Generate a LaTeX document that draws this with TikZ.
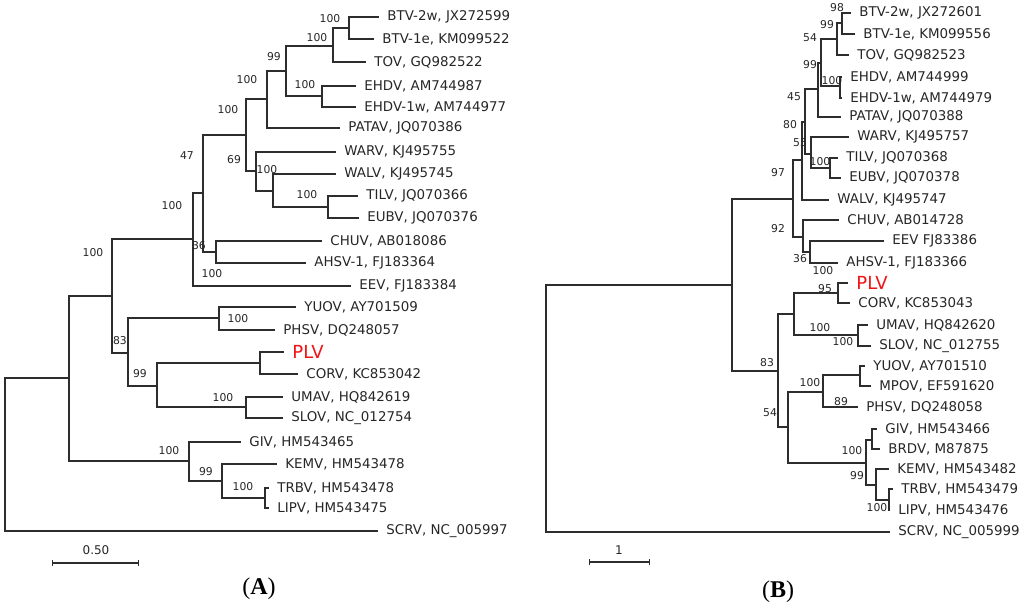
\documentclass[tikz,border=0pt]{standalone}
\usepackage{fontspec}
\usepackage{xcolor}
\usetikzlibrary{arrows.meta}
\newfontfamily\treefont{DejaVu Sans}
\newfontfamily\capfont{Liberation Serif}
\definecolor{plvred}{RGB}{240,20,20}
\definecolor{branchgray}{RGB}{45,45,45}

\begin{document}
\begin{tikzpicture}
  [x=0.5pt,y=-0.5pt,
   branch/.style={draw=branchgray,line width=0.6pt},
   leaf/.style={anchor=west,inner xsep=4pt,inner ysep=0pt,text=black!85,font=\treefont\fontsize{6.7}{7}\selectfont},
   plv/.style={leaf,text=plvred,font=\treefont\fontsize{9}{9}\selectfont},
   boot/.style={inner sep=0pt,text=black!85,font=\treefont\fontsize{5.4}{6}\selectfont},
   barlabel/.style={boot,font=\treefont\fontsize{6}{6}\selectfont},
   panel/.style={inner sep=0pt,font=\capfont\fontsize{12}{14}\selectfont}]
  \useasboundingbox (0,0) rectangle (1024,607);

  % (A) inner nodes
  \coordinate (a1) at (349,28);
  \coordinate (a2) at (333,46);
  \coordinate (a3) at (322,96);
  \coordinate (a4) at (286,71);
  \coordinate (a5) at (267,99);
  \coordinate (a6) at (328,207);
  \coordinate (a7) at (273,191);
  \coordinate (a8) at (256,171);
  \coordinate (a9) at (246,135);
  \coordinate (a10) at (216,252);
  \coordinate (a11) at (203,193);
  \coordinate (a12) at (193,239);
  \coordinate (a13) at (112,296);
  \coordinate (a14) at (219,318);
  \coordinate (a15) at (260,363);
  \coordinate (a16) at (246,407);
  \coordinate (a17) at (157,386);
  \coordinate (a18) at (128,353);
  \coordinate (a19) at (265,498);
  \coordinate (a20) at (222,481);
  \coordinate (a21) at (189,461);
  \coordinate (a22) at (69,378);
  \coordinate (rootA) at (5,455);

  % (A) taxa
  \node[leaf] (BTV2wA) at (379,17) {BTV-2w, JX272599};
  \node[leaf] (BTV1eA) at (374,39) {BTV-1e, KM099522};
  \node[leaf] (TOVA) at (366,62) {TOV, GQ982522};
  \node[leaf] (EHDVA) at (356,86) {EHDV, AM744987};
  \node[leaf] (EHDV1wA) at (356,107) {EHDV-1w, AM744977};
  \node[leaf] (PATAVA) at (340,128) {PATAV, JQ070386};
  \node[leaf] (WARVA) at (336,152) {WARV, KJ495755};
  \node[leaf] (WALVA) at (336,174) {WALV, KJ495745};
  \node[leaf] (TILVA) at (358,196) {TILV, JQ070366};
  \node[leaf] (EUBVA) at (359,218) {EUBV, JQ070376};
  \node[leaf] (CHUVA) at (322,241) {CHUV, AB018086};
  \node[leaf] (AHSVA) at (306,263) {AHSV-1, FJ183364};
  \node[leaf] (EEVA) at (351,286) {EEV, FJ183384};
  \node[leaf] (YUOVA) at (296,307) {YUOV, AY701509};
  \node[leaf] (PHSVA) at (275,330) {PHSV, DQ248057};
  \node[plv] (PLVA) at (284,352) {PLV};
  \node[leaf] (CORVA) at (298,374) {CORV, KC853042};
  \node[leaf] (UMAVA) at (283,397) {UMAV, HQ842619};
  \node[leaf] (SLOVA) at (283,418) {SLOV, NC\_012754};
  \node[leaf] (GIVA) at (241,442) {GIV, HM543465};
  \node[leaf] (KEMVA) at (277,464) {KEMV, HM543478};
  \node[leaf] (TRBVA) at (269,488) {TRBV, HM543478};
  \node[leaf] (LIPVA) at (269,508) {LIPV, HM543475};
  \node[leaf] (SCRVA) at (378,531) {SCRV, NC\_005997};

  \foreach \from/\to in {a2/a1,a4/a2,a4/a3,a5/a4,a9/a5,a7/a6,a8/a7,a9/a8,a11/a9,a11/a10,
      a12/a11,a13/a12,a18/a14,a17/a15,a17/a16,a18/a17,a13/a18,a22/a13,a20/a19,a21/a20,
      a22/a21,rootA/a22}
    \draw[branch] (\from) |- (\to);
  \foreach \from/\to in {a1/BTV2wA,a1/BTV1eA,a2/TOVA,a3/EHDVA,a3/EHDV1wA,a5/PATAVA,
      a8/WARVA,a7/WALVA,a6/TILVA,a6/EUBVA,a10/CHUVA,a10/AHSVA,a12/EEVA,a14/YUOVA,
      a14/PHSVA,a15/PLVA,a15/CORVA,a16/UMAVA,a16/SLOVA,a21/GIVA,a20/KEMVA,a19/TRBVA,
      a19/LIPVA,rootA/SCRVA}
    \draw[branch] (\from) |- (\to.west);

  % (A) bootstrap values
  \foreach \x/\y/\v [count=\i] in {330/19/100,317/38/100,274/57/99,247/80/100,305/85/100,
      228/110/100,187/156/47,234/160/69,267/170/100,307/195/100,172/206/100,199/246/36,
      93/253/100,212/274/100,238/319/100,120/341/83,140/374/99,223/398/100,169/451/100,
      206/472/99,243/487/100}
    \node[boot] (bootA\i) at (\x,\y) {\v};

  % (B) inner nodes
  \coordinate (b1) at (842,23);
  \coordinate (b2) at (837,39);
  \coordinate (b3) at (821,63);
  \coordinate (b4) at (840,86);
  \coordinate (b5) at (818,89);
  \coordinate (b6) at (805,122);
  \coordinate (b7) at (830,168);
  \coordinate (b8) at (811,154);
  \coordinate (b9) at (802,160);
  \coordinate (b10) at (810,252);
  \coordinate (b11) at (803,237);
  \coordinate (b12) at (793,199);
  \coordinate (b13) at (838,293);
  \coordinate (b14) at (858,335);
  \coordinate (b15) at (794,314);
  \coordinate (b16) at (860,375);
  \coordinate (b17) at (823,392);
  \coordinate (b18) at (872,440);
  \coordinate (b19) at (889,500);
  \coordinate (b20) at (876,485);
  \coordinate (b21) at (866,463);
  \coordinate (b22) at (788,427);
  \coordinate (b23) at (778,371);
  \coordinate (b24) at (732,285);
  \coordinate (rootB) at (546,408);

  % (B) taxa
  \node[leaf] (BTV2wB) at (851,13) {BTV-2w, JX272601};
  \node[leaf] (BTV1eB) at (855,34) {BTV-1e, KM099556};
  \node[leaf] (TOVB) at (849,55) {TOV, GQ982523};
  \node[leaf] (EHDVB) at (842,77) {EHDV, AM744999};
  \node[leaf] (EHDV1wB) at (842,98) {EHDV-1w, AM744979};
  \node[leaf] (PATAVB) at (841,117) {PATAV, JQ070388};
  \node[leaf] (WARVB) at (849,137) {WARV, KJ495757};
  \node[leaf] (TILVB) at (838,158) {TILV, JQ070368};
  \node[leaf] (EUBVB) at (841,178) {EUBV, JQ070378};
  \node[leaf] (WALVB) at (829,200) {WALV, KJ495747};
  \node[leaf] (CHUVB) at (839,220) {CHUV, AB014728};
  \node[leaf] (EEVB) at (884,241) {EEV FJ83386};
  \node[leaf] (AHSVB) at (838,263) {AHSV-1, FJ183366};
  \node[plv] (PLVB) at (848,283) {PLV};
  \node[leaf] (CORVB) at (850,303) {CORV, KC853043};
  \node[leaf] (UMAVB) at (868,325) {UMAV, HQ842620};
  \node[leaf] (SLOVB) at (871,346) {SLOV, NC\_012755};
  \node[leaf] (YUOVB) at (865,366) {YUOV, AY701510};
  \node[leaf] (MPOVB) at (871,386) {MPOV, EF591620};
  \node[leaf] (PHSVB) at (858,407) {PHSV, DQ248058};
  \node[leaf] (GIVB) at (877,429) {GIV, HM543466};
  \node[leaf] (BRDVB) at (880,449) {BRDV, M87875};
  \node[leaf] (KEMVB) at (889,469) {KEMV, HM543482};
  \node[leaf] (TRBVB) at (893,489) {TRBV, HM543479};
  \node[leaf] (LIPVB) at (890,510) {LIPV, HM543476};
  \node[leaf] (SCRVB) at (890,532) {SCRV, NC\_005999};

  \foreach \from/\to in {b2/b1,b3/b2,b3/b4,b5/b3,b6/b5,b6/b8,b8/b7,b9/b6,b11/b10,b12/b9,
      b12/b11,b15/b13,b15/b14,b17/b16,b21/b18,b20/b19,b21/b20,b22/b17,b22/b21,b23/b15,
      b23/b22,b24/b12,b24/b23,rootB/b24}
    \draw[branch] (\from) |- (\to);
  \foreach \from/\to in {b1/BTV2wB,b1/BTV1eB,b2/TOVB,b4/EHDVB,b4/EHDV1wB,b5/PATAVB,
      b8/WARVB,b7/TILVB,b7/EUBVB,b9/WALVB,b11/CHUVB,b10/EEVB,b10/AHSVB,b13/PLVB,
      b13/CORVB,b14/UMAVB,b14/SLOVB,b16/YUOVB,b16/MPOVB,b17/PHSVB,b18/GIVB,b18/BRDVB,
      b20/KEMVB,b19/TRBVB,b19/LIPVB,rootB/SCRVB}
    \draw[branch] (\from) |- (\to.west);

  % (B) bootstrap values
  \foreach \x/\y/\v [count=\i] in {837/8/98,827/25/99,810/38/54,810/65/99,832/81/100,
      794/97/45,790/125/80,800/143/55,820/162/100,778/173/97,778/229/92,800/259/36,
      823/271/100,825/289/95,820/328/100,843/342/100,767/363/83,810/383/100,841/402/89,
      770/413/54,852/451/100,857/476/99,877/508/100}
    \node[boot] (bootB\i) at (\x,\y) {\v};

  % scale bars and panel letters
  \coordinate (barA1) at (52,563);
  \coordinate (barA2) at (139,563);
  \draw[branch,{Bar[width=3pt]}-{Bar[width=3pt]}] (barA1) -- (barA2);
  \node[barlabel] (barAlabel) at (96,550) {0.50};
  \coordinate (barB1) at (589,562);
  \coordinate (barB2) at (650,562);
  \draw[branch,{Bar[width=3pt]}-{Bar[width=3pt]}] (barB1) -- (barB2);
  \node[barlabel] (barBlabel) at (619,550) {1};

  \node[panel] (panelA) at (259,589) {(\textbf{A})};
  \node[panel] (panelB) at (778,592) {(\textbf{B})};
\end{tikzpicture}
\end{document}
